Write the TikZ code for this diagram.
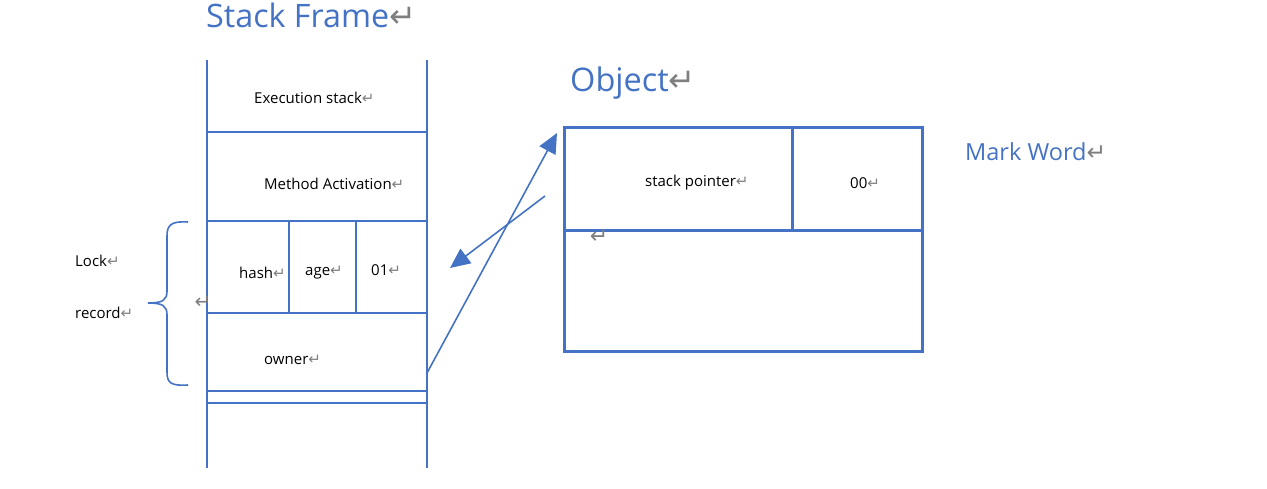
\documentclass[tikz,border=0pt]{standalone}
\usepackage{fontspec}
\setmainfont{Open Sans}
\newfontfamily\markfont{DejaVu Sans}
\usetikzlibrary{arrows.meta}
\definecolor{wordblue}{HTML}{4472C4}
\definecolor{markgray}{HTML}{7F7F7F}
\newcommand{\ret}{{\markfont\color{markgray}\char"21B5}}
\begin{document}
\begin{tikzpicture}[x=1pt,y=-1pt,
    frame/.style={draw=wordblue,line width=2pt},
    objbox/.style={draw=wordblue,line width=3pt},
    cell/.style={inner sep=0pt,font=\fontsize{15}{15}\selectfont},
    heading/.style={inner sep=0pt,text=wordblue}]
    \useasboundingbox (0,0) rectangle (1267,489);
    \def\l{207}
    \def\r{427}
    % stack frame
    \draw[frame] (\l,60) -- (\l,468);
    \draw[frame] (\r,60) -- (\r,468);
    \foreach \h in {132,221,313,391,403}
      \draw[frame] (\l,\h) -- (\r,\h);
    \draw[frame] (289,221) -- (289,313);
    \draw[frame] (356,221) -- (356,313);
    \node[heading,anchor=base west,font=\fontsize{32.3}{32}\selectfont] (SF) at (206,28) {Stack Frame\ret};
    \node[cell,anchor=west] (E) at (254,98) {Execution stack\ret};
    \node[cell,anchor=west] (M) at (264,184) {Method Activation\ret};
    \node[cell,anchor=west] (H) at (239,273) {hash\ret};
    \node[cell,anchor=west] (A) at (305,273) {age\ret};
    \node[cell,anchor=west] (B01) at (371,270) {01\ret};
    \node[cell,anchor=west] (O) at (264,360) {owner\ret};
    % lock record brace
    \draw[wordblue,line width=1.6pt] (188,222) .. controls (171,221) and (167,225) .. (167,236)
      -- (167,291) .. controls (167,300) and (163,303) .. (148,303)
      .. controls (163,303) and (167,306) .. (167,315)
      -- (167,372) .. controls (167,383) and (171,386) .. (188,385);
    \node[cell,anchor=west] (L1) at (75,261) {Lock\ret};
    \node[cell,anchor=west] (L2) at (75,313) {record\ret};
    \node[cell,font=\fontsize{20}{20}\selectfont] (R1) at (203,302) {\ret};
    % object
    \draw[objbox] (564,128) rectangle (922,351);
    \draw[objbox] (564,231) -- (922,231);
    \draw[objbox] (792,128) -- (792,231);
    \node[heading,anchor=base west,font=\fontsize{32.5}{32}\selectfont] (OB) at (570,92) {Object\ret};
    \node[heading,anchor=west,font=\fontsize{23.5}{23}\selectfont] (MW) at (965,152) {Mark Word\ret};
    \node[cell,anchor=west] (SP) at (645,183) {stack pointer\ret};
    \node[cell,anchor=west] (Z) at (850,183) {00\ret};
    \node[cell,font=\fontsize{22}{22}\selectfont] (R2) at (599,237) {\ret};
    % pointers
    \coordinate (ownerR) at (427,373);
    \coordinate (objTip) at (557,133);
    \coordinate (ptrR) at (545,196);
    \coordinate (lockTip) at (450,268);
    \path (ownerR) edge [wordblue,line width=1.6pt,-{Triangle[length=20pt,width=18pt]}] (objTip);
    \path (ptrR) edge [wordblue,line width=1.6pt,-{Triangle[length=20pt,width=18pt]}] (lockTip);
\end{tikzpicture}
\end{document}
